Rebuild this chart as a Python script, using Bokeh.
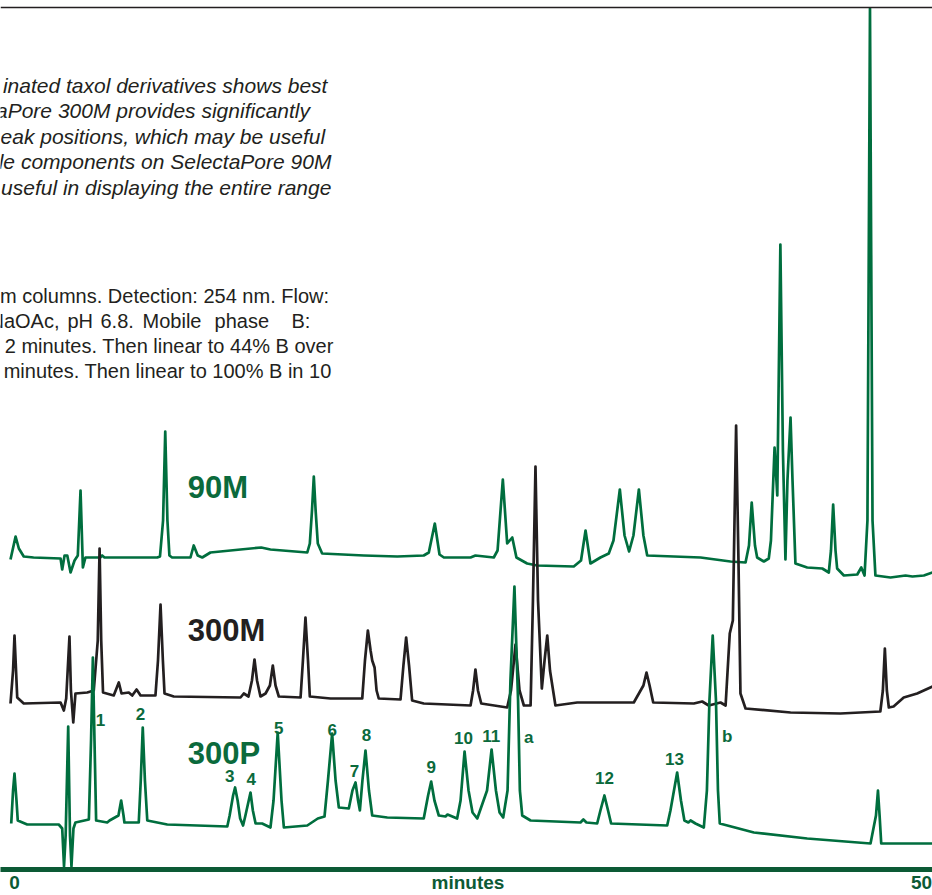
from bokeh.plotting import figure
from bokeh.models import Range1d, FixedTicker, Span, Label, LabelSet, ColumnDataSource
from bokeh.core.properties import value
from bokeh.embed import file_html
from bokeh.resources import INLINE

# ---- chromatogram data: retention time (minutes) and detector signal (arbitrary units) ----
t_90m = [-0.22, 0.06, 0.24, 0.51, 1.05, 2.54, 2.63, 2.76, 2.91, 3.09,
         3.31, 3.49, 3.64, 3.77, 3.91, 4.74, 4.83, 4.96, 6.21, 7.87,
         8.02, 8.19, 8.31, 8.43, 8.54, 8.69, 9.70, 9.88, 10.10, 10.35,
         10.80, 12.46, 13.60, 14.11, 16.14, 16.28, 16.40, 16.50, 16.60, 16.72,
         16.96, 19.26, 21.10, 22.56, 22.84, 23.17, 23.43, 23.67, 25.14, 25.41,
         26.42, 26.63, 26.92, 27.16, 27.44, 27.67, 28.26, 28.81, 30.83, 31.23,
         31.48, 31.75, 32.30, 32.76, 33.02, 33.37, 33.63, 33.88, 34.12, 34.42,
         34.67, 34.88, 37.82, 39.47, 40.30, 40.49, 40.64, 40.82, 40.94, 41.31,
         41.58, 41.70, 41.90, 42.05, 42.22, 42.36, 42.50, 42.61, 42.78, 42.89,
         43.05, 43.70, 44.53, 44.89, 45.01, 45.13, 45.26, 45.35, 45.72, 46.46,
         46.68, 46.86, 47.02, 47.16, 47.30, 47.46, 48.29, 49.12, 49.50, 50.13, 50.61]
s_90m = [-2, 21, 9, 1, 0, -1, -12, 2, 2, -15,
         -3, 2, 67, -10, 0, 0, 2, 0, 0, 0,
         1, 37, 126, 37, 2, 0, 0, 12, 2, 0,
         5, 8, 10, 8, 5, 14, 47, 81, 47, 14,
         4, 2, 1, 2, 5, 34, 3, 0, 0, 2,
         0, 7, 78, 14, 20, 0, -6, -8, -9, -3,
         27, -6, 0, 4, 17, 68, 22, 6, 22, 68,
         22, 2, 0, -4, -5, 12, 55, 12, 0, -4,
         -1, 17, 110, 62, 313, 107, -2, 77, 140, 77,
         -6, -10, -11, -15, 7, 53, 7, -11, -18, -17,
         -10, -18, 37, 549, 37, -18, -20, -18, -19, -18, -15]

t_300m = [-0.22, -0.08, 0.00, 0.15, 0.51, 2.54, 2.72, 2.85, 3.03, 3.11,
          3.24, 3.36, 4.01, 4.37, 4.59, 4.69, 4.78, 4.88, 5.47, 5.75,
          5.90, 6.30, 6.49, 6.73, 6.95, 7.77, 7.91, 8.05, 8.18, 8.27,
          8.78, 12.46, 12.64, 12.90, 13.09, 13.23, 13.37, 13.56, 13.84, 14.08,
          14.24, 14.39, 14.57, 15.77, 15.90, 16.04, 16.18, 16.28, 17.42, 19.17,
          19.32, 19.48, 19.63, 19.72, 19.85, 19.96, 20.08, 21.28, 21.44, 21.59,
          21.75, 21.92, 22.56, 25.14, 25.28, 25.41, 25.55, 25.73, 27.16, 27.37,
          27.62, 27.84, 28.08, 28.45, 28.58, 28.72, 28.86, 29.07, 29.22, 29.37,
          29.52, 29.82, 31.02, 34.14, 34.67, 34.84, 35.01, 35.21, 37.45, 37.91,
          38.27, 38.92, 39.20, 39.43, 39.60, 39.78, 39.91, 40.02, 40.30, 42.78,
          45.53, 47.73, 47.87, 47.98, 48.09, 48.20, 48.46, 49.02, 49.76, 50.61]
s_300m = [0, 33, 68, 6, 0, 1, -7, 5, 67, 13,
          -19, 10, 11, 13, 63, 155, 63, 11, 8, 21,
          10, 11, 8, 14, 8, 8, 43, 99, 43, 10,
          7, 6, 10, 7, 23, 44, 23, 7, 10, 18,
          38, 18, 7, 6, 43, 86, 43, 7, 5, 5,
          43, 73, 53, 43, 36, 13, 5, 4, 38, 66,
          38, 3, 0, -2, 13, 34, 13, 0, -4, 13,
          59, 13, -2, -2, 103, 237, 103, 15, 43, 68,
          33, -2, 1, 1, 18, 31, 18, 1, 0, 2,
          -2, 1, -2, 70, 83, 278, 143, 10, -5, -9,
          -10, -8, 13, 55, 13, -4, -3, 6, 10, 17]

t_300p = [-0.18, -0.08, 0.00, 0.11, 0.18, 0.70, 2.44, 2.63, 2.73, 2.82,
          2.96, 3.06, 3.14, 3.25, 3.36, 4.10, 4.22, 4.32, 4.41, 4.50,
          5.11, 5.24, 5.73, 5.88, 6.01, 6.06, 6.85, 6.96, 7.07, 7.19,
          7.32, 8.42, 11.73, 11.86, 12.05, 12.16, 12.30, 12.44, 12.60, 12.73,
          13.01, 13.14, 13.29, 13.65, 14.11, 14.28, 14.51, 14.72, 14.85, 16.14,
          16.72, 17.09, 17.28, 17.51, 17.70, 17.88, 18.43, 18.63, 18.80, 18.94,
          19.04, 19.18, 19.35, 19.54, 19.72, 20.55, 22.56, 22.80, 22.97, 23.15,
          23.39, 23.76, 23.87, 24.40, 24.59, 24.81, 25.03, 25.25, 25.51, 26.05,
          26.30, 26.54, 26.74, 26.94, 27.18, 27.34, 27.56, 27.76, 27.86, 27.99,
          28.45, 31.20, 31.36, 31.53, 32.12, 32.30, 32.52, 32.72, 32.89, 35.98,
          36.16, 36.53, 36.74, 36.93, 37.15, 37.27, 37.45, 37.54, 38.00, 38.17,
          38.31, 38.49, 38.67, 38.78, 38.88, 40.76, 43.70, 47.19, 47.49, 47.60,
          47.69, 47.78, 50.61]
s_300p = [-1, 32, 49, 22, 2, -2, -2, -6, -44, -13,
          96, -13, -44, -6, 0, 3, 82, 165, 82, 2,
          0, 2, 7, 22, 7, 0, 0, 42, 95, 42,
          2, -2, -4, 7, 27, 35, 22, 4, -3, 7,
          30, 12, -1, -1, -5, 22, 90, 22, -5, -3,
          4, 6, 42, 89, 42, 15, 14, 32, 40, 22,
          12, 42, 72, 32, 7, 5, 4, 27, 41, 22,
          7, 6, 8, 4, 22, 71, 32, 10, 4, 32,
          73, 32, 10, 5, 32, 142, 236, 122, 32, 7,
          2, 0, 3, 0, -1, 12, 27, 12, -1, -3,
          12, 50, 22, 2, 0, 2, 0, -1, -5, 32,
          122, 187, 122, 32, -1, -10, -16, -21, 7, 32,
          7, -21, -21]

# peak identification labels on the 300P trace
peak_names = ["1", "2", "3", "4", "5", "6", "7", "8", "9", "10", "11", "a", "12", "13", "b"]
peak_label_t = [4.74, 6.95, 11.87, 13.05, 14.57, 17.51, 18.74, 19.40, 22.97, 24.75, 26.28, 28.35, 32.52, 36.38, 39.29]
peak_label_h = [96.5, 102.5, 40.5, 37.5, 88.5, 86.5, 45.5, 81.5, 49.5, 78.5, 80.5, 79.5, 38.5, 57.5, 80.5]

tick_values = [0, 25, 50]
tick_labels = {0: "0", 25: "minutes", 50: "50"}

caption_1 = ["inated taxol derivatives shows best",
             "aPore 300M provides significantly",
             "eak positions, which may be useful",
             "ple components on SelectaPore 90M",
             "e useful in displaying the entire range"]
caption_2 = ["m columns. Detection: 254 nm. Flow:",
             None,
             "2 minutes. Then linear to 44% B over",
             " minutes. Then linear to 100% B in 10"]
caption_2_spaced_words = ["NaOAc,", "pH", "6.8.", "Mobile", "phase", "B:"]

# ---- styling ----
GREEN = "#006e3e"
GREEN_TXT = "#0b6a3c"
AXIS_GREEN = "#0c5a35"
BLACK = "#231f20"
OFF_90M, OFF_300M, OFF_300P = 312, 166, 47
SANS = "Liberation Sans"

p = figure(width=932, height=895,
           x_range=Range1d(-14 / 18.14, (932 - 14) / 18.14),
           y_range=Range1d(0, 869),
           y_axis_type=None, output_backend="svg", toolbar_location=None,
           min_border=0, outline_line_color=None)
p.xgrid.visible = False
p.background_fill_color = "white"
p.border_fill_color = "white"

ax = p.xaxis[0]
ax.ticker = FixedTicker(ticks=tick_values)
ax.major_label_overrides = tick_labels
ax.axis_line_color = AXIS_GREEN
ax.axis_line_width = 5
ax.major_tick_line_color = None
ax.minor_tick_line_color = None
ax.major_tick_out = 0
ax.major_tick_in = 0
ax.major_label_standoff = 2
ax.major_label_text_font = SANS
ax.major_label_text_font_style = "bold"
ax.major_label_text_font_size = "19px"
ax.major_label_text_color = AXIS_GREEN

# top rule
p.add_layout(Span(location=862, dimension="width", line_color=BLACK, line_width=1.3))

# traces
p.line(t_90m, [OFF_90M + v for v in s_90m], line_color=GREEN, line_width=2.7, line_join="round")
p.line(t_300m, [OFF_300M + v for v in s_300m], line_color=BLACK, line_width=2.7, line_join="round")
p.line(t_300p, [OFF_300P + v for v in s_300p], line_color=GREEN, line_width=2.7, line_join="round")

# trace names
for txt, yv, col in [("90M", 382.5, GREEN_TXT), ("300M", 239.5, BLACK), ("300P", 116.2, GREEN_TXT)]:
    p.add_layout(Label(x=9.55, y=yv, text=txt, text_font=SANS, text_font_style="bold",
                       text_font_size="31px", text_color=col, text_baseline="alphabetic"))

# peak labels
src = ColumnDataSource(dict(x=peak_label_t, y=[OFF_300P + h for h in peak_label_h], name=peak_names))
p.add_layout(LabelSet(x="x", y="y", text="name", source=src, text_align="center",
                      text_baseline="alphabetic", text_font=value(SANS), text_font_style="bold",
                      text_font_size="17px", text_color=GREEN_TXT))

# captions (cut off at the left edge as in the original)
right1 = [17.25, 16.29, 17.12, 17.47, 17.47]
base1 = [784.5, 758.9, 733.3, 707.7, 682.1]
for txt, xr, yb in zip(caption_1, right1, base1):
    p.add_layout(Label(x=xr, y=yb, text=txt, text_align="right", text_baseline="alphabetic",
                       text_font=SANS, text_font_style="italic", text_font_size="21px",
                       text_color=BLACK))
right2 = [17.34, None, 17.60, 17.79]
base2 = [573.8, 548.8, 523.8, 498.8]
for txt, xr, yb in zip(caption_2, right2, base2):
    if txt is None:
        continue
    p.add_layout(Label(x=xr, y=yb, text=txt, text_align="right", text_baseline="alphabetic",
                       text_font=SANS, text_font_size="20px", text_color=BLACK))
# letter-spaced (justified) second line: word by word
word_starts = [-1.38, 2.92, 4.74, 7.06, 11.03, 15.27]
for txt, xs in zip(caption_2_spaced_words, word_starts):
    p.add_layout(Label(x=xs, y=base2[1], text=txt, text_align="left", text_baseline="alphabetic",
                       text_font=SANS, text_font_size="20px", text_color=BLACK))

open("out.html", "w").write(file_html(p, INLINE))
